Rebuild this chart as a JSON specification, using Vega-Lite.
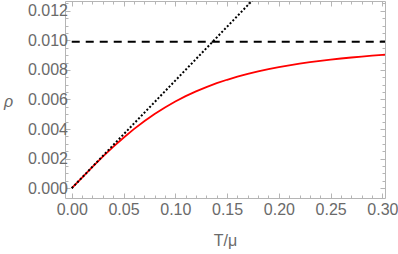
{
  "$schema": "https://vega.github.io/schema/vega-lite/v6.json",
  "width": 320,
  "height": 197,
  "autosize": "none",
  "padding": {"left": 65, "top": 1, "right": 13, "bottom": 56},
  "config": {
    "view": {"stroke": "#b5b5b5", "strokeWidth": 1},
    "axis": {
      "domain": false,
      "grid": false,
      "labelFont": "Liberation Sans",
      "labelFontSize": 16,
      "labelColor": "#6a6a6a",
      "labelOverlap": false,
      "labelFlush": false,
      "tickColor": "#b5b5b5",
      "titleFont": "Liberation Sans",
      "titleFontSize": 16,
      "titleColor": "#6a6a6a",
      "titleFontWeight": "normal"
    }
  },
  "datasets": {
    "curve": [
      {"T": 0, "rho": 0},
      {"T": 0.01, "rho": 0.000726},
      {"T": 0.02, "rho": 0.00144},
      {"T": 0.03, "rho": 0.002133},
      {"T": 0.04, "rho": 0.002794},
      {"T": 0.05, "rho": 0.003416},
      {"T": 0.06, "rho": 0.003996},
      {"T": 0.07, "rho": 0.004531},
      {"T": 0.08, "rho": 0.00502},
      {"T": 0.09, "rho": 0.005464},
      {"T": 0.1, "rho": 0.005865},
      {"T": 0.11, "rho": 0.006226},
      {"T": 0.12, "rho": 0.00655},
      {"T": 0.13, "rho": 0.006841},
      {"T": 0.14, "rho": 0.007101},
      {"T": 0.15, "rho": 0.007334},
      {"T": 0.16, "rho": 0.007543},
      {"T": 0.17, "rho": 0.007731},
      {"T": 0.18, "rho": 0.007899},
      {"T": 0.19, "rho": 0.00805},
      {"T": 0.2, "rho": 0.008186},
      {"T": 0.21, "rho": 0.00831},
      {"T": 0.22, "rho": 0.008421},
      {"T": 0.23, "rho": 0.008521},
      {"T": 0.24, "rho": 0.008613},
      {"T": 0.25, "rho": 0.008696},
      {"T": 0.26, "rho": 0.008772},
      {"T": 0.27, "rho": 0.008841},
      {"T": 0.28, "rho": 0.008905},
      {"T": 0.29, "rho": 0.008963},
      {"T": 0.3, "rho": 0.009016},
      {"T": 0.3025, "rho": 0.009029}
    ],
    "dashed": [
      {"T": 0, "rho": 0.0099},
      {"T": 0.3025, "rho": 0.0099}
    ],
    "dotted": [
      {"T": 0, "rho": 0},
      {"T": 0.2, "rho": 0.01456}
    ]
  },
  "layer": [
    {
      "data": {"name": "curve"},
      "mark": {"type": "line", "color": "#ff0000", "strokeWidth": 1.8, "clip": true},
      "encoding": {
        "x": {
          "field": "T", "type": "quantitative",
          "scale": {"domain": [-0.0065, 0.3025], "nice": false, "zero": false},
          "axis": {
            "orient": "bottom",
            "title": "T/μ",
            "values": [0, 0.01, 0.02, 0.03, 0.04, 0.05, 0.06, 0.07, 0.08, 0.09, 0.1, 0.11, 0.12, 0.13, 0.14, 0.15, 0.16, 0.17, 0.18, 0.19, 0.2, 0.21, 0.22, 0.23, 0.24, 0.25, 0.26, 0.27, 0.28, 0.29, 0.3],
            "format": ".2f",
            "labelExpr": "abs(datum.value*20 - round(datum.value*20)) < 0.001 ? datum.label : ''",
            "tickSize": {"condition": {"test": "abs(datum.value*20 - round(datum.value*20)) < 0.001", "value": -5}, "value": -3},
            "labelPadding": 8,
            "titleBaseline": "alphabetic",
            "titleY": 47
          }
        },
        "y": {
          "field": "rho", "type": "quantitative",
          "scale": {"domain": [-0.00066, 0.01266], "nice": false, "zero": false},
          "axis": {
            "orient": "left",
            "title": "ρ",
            "titleFontStyle": "italic",
            "titleAngle": 0,
            "titleAlign": "center",
            "titleBaseline": "middle",
            "titleX": -57,
            "titleY": 100,
            "values": [0, 0.0005, 0.001, 0.0015, 0.002, 0.0025, 0.003, 0.0035, 0.004, 0.0045, 0.005, 0.0055, 0.006, 0.0065, 0.007, 0.0075, 0.008, 0.0085, 0.009, 0.0095, 0.01, 0.0105, 0.011, 0.0115, 0.012, 0.0125],
            "format": ".3f",
            "labelExpr": "abs(datum.value*500 - round(datum.value*500)) < 0.001 ? datum.label : ''",
            "tickSize": {"condition": {"test": "abs(datum.value*500 - round(datum.value*500)) < 0.001", "value": -5}, "value": -3},
            "labelPadding": 2.5
          }
        }
      }
    },
    {
      "data": {"name": "dashed"},
      "mark": {"type": "line", "color": "#000000", "strokeWidth": 2, "strokeDash": [8, 6], "clip": true},
      "encoding": {
        "x": {
          "field": "T", "type": "quantitative",
          "axis": {
            "orient": "top",
            "title": null,
            "labels": false,
            "values": [0, 0.01, 0.02, 0.03, 0.04, 0.05, 0.06, 0.07, 0.08, 0.09, 0.1, 0.11, 0.12, 0.13, 0.14, 0.15, 0.16, 0.17, 0.18, 0.19, 0.2, 0.21, 0.22, 0.23, 0.24, 0.25, 0.26, 0.27, 0.28, 0.29, 0.3],
            "tickSize": {"condition": {"test": "abs(datum.value*20 - round(datum.value*20)) < 0.001", "value": -5}, "value": -3}
          }
        },
        "y": {
          "field": "rho", "type": "quantitative",
          "axis": {
            "orient": "right",
            "title": null,
            "labels": false,
            "values": [0, 0.0005, 0.001, 0.0015, 0.002, 0.0025, 0.003, 0.0035, 0.004, 0.0045, 0.005, 0.0055, 0.006, 0.0065, 0.007, 0.0075, 0.008, 0.0085, 0.009, 0.0095, 0.01, 0.0105, 0.011, 0.0115, 0.012, 0.0125],
            "tickSize": {"condition": {"test": "abs(datum.value*500 - round(datum.value*500)) < 0.001", "value": -5}, "value": -3}
          }
        }
      }
    },
    {
      "data": {"name": "dotted"},
      "mark": {"type": "line", "color": "#000000", "strokeWidth": 2, "strokeDash": [2, 2], "clip": true},
      "encoding": {
        "x": {"field": "T", "type": "quantitative", "axis": null},
        "y": {"field": "rho", "type": "quantitative", "axis": null}
      }
    }
  ],
  "resolve": {"axis": {"x": "independent", "y": "independent"}}
}
